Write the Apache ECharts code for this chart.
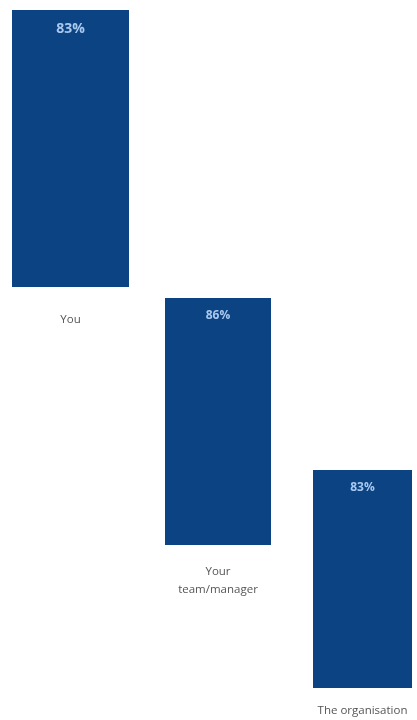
<!DOCTYPE html>
<html lang="en">
<head>
  <meta charset="UTF-8">
  <title>Chart</title>
  <script src="https://cdn.jsdelivr.net/npm/echarts@6/dist/echarts.min.js"></script>
  <style>
    html, body{
      margin: 0;
      padding: 0;
      background: #fff;
    }
    #myChart{
      width: 417px;
      height: 720px;
    }
  </style>
</head>
<body>
  <div id="myChart"></div>
<script>
// 数据
let categories = ['You', 'Your\nteam/manager', 'The organisation'];
let values = [83, 86, 83];

// 每个柱子一个 grid（位置照着原图摆）
let boxes = [
  { left: 12, top: 10, width: 117, height: 277, margin: 24, size: 14 },
  { left: 165, top: 298, width: 106, height: 247, margin: 18, size: 12 },
  { left: 313, top: 470, width: 99, height: 222, margin: 14, size: 12 }
];

let myChart = echarts.init(document.getElementById('myChart'));
let option = {
  animation: false,
  grid: boxes.map(b => ({ left: b.left, top: b.top, width: b.width, height: b.height })),
  xAxis: categories.map((c, i) => ({
    type: 'category',
    gridIndex: i,
    data: [c],
    axisLine: { show: false },
    axisTick: { show: false },
    axisLabel: {
      margin: boxes[i].margin,
      color: '#555',
      fontSize: 11.5,
      lineHeight: 18,
      fontFamily: 'Open Sans'
    }
  })),
  yAxis: values.map((v, i) => ({
    type: 'value',
    gridIndex: i,
    min: 0,
    max: v,
    show: false,
    splitLine: { show: false }
  })),
  series: values.map((v, i) => ({
    type: 'bar',
    xAxisIndex: i,
    yAxisIndex: i,
    barWidth: '100%',
    data: [v],
    itemStyle: { color: '#0c4382' },
    label: {
      show: true,
      position: 'insideTop',
      distance: 12,
      formatter: '{c}%',
      color: '#a9c9ef',
      fontWeight: 'bold',
      fontSize: boxes[i].size,
      fontFamily: 'Open Sans'
    }
  }))
};
myChart.setOption(option);
</script>
</body>
</html>
